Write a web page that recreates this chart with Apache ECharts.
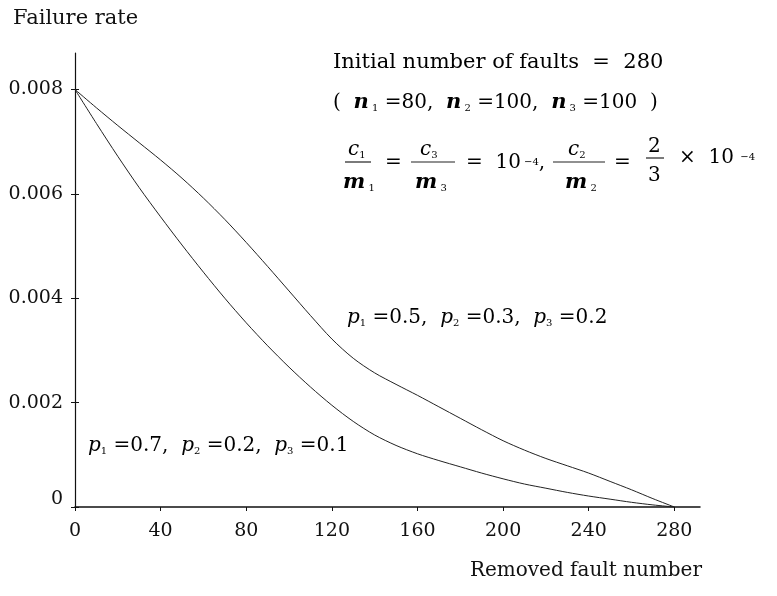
<!DOCTYPE html>
<html>
<head>
<meta charset="UTF-8">
<title>Failure rate</title>
<script src="https://cdn.jsdelivr.net/npm/echarts@6/dist/echarts.min.js"></script>
<style>
  html, body { margin: 0; padding: 0; background: #fff; }
  #chart { width: 777px; height: 596px; }
</style>
</head>
<body>
<div id="chart"></div>
<script>
// removed fault number
var xs = [0, 10, 20, 30, 40, 50, 60, 70, 80, 90, 100, 110, 120, 130, 140,
          150, 160, 170, 180, 190, 200, 210, 220, 230, 240, 250, 260, 270, 280];
// p1=0.5, p2=0.3, p3=0.2
var rateA = [0.0080, 0.00765, 0.00731, 0.00698, 0.00665, 0.0063, 0.00592, 0.00551, 0.00507, 0.00461,
             0.00414, 0.00367, 0.00322, 0.00285, 0.00257, 0.00235, 0.00214, 0.00192, 0.0017, 0.00148,
             0.00127, 0.00109, 0.00093, 0.00079, 0.00065, 0.00049, 0.00033, 0.00016, 0];
// p1=0.7, p2=0.2, p3=0.1
var rateB = [0.0080, 0.00735, 0.00672, 0.00612, 0.00556, 0.00502, 0.0045, 0.004, 0.00353, 0.00309,
             0.00268, 0.0023, 0.00195, 0.00164, 0.00138, 0.00118, 0.00102, 0.00089, 0.00077, 0.00065,
             0.00054, 0.00044, 0.00036, 0.00028, 0.00021, 0.00015, 0.00009, 0.00004, 0];
var xTicks = [0, 40, 80, 120, 160, 200, 240, 280];
var yTicks = [0, 0.002, 0.004, 0.006, 0.008];

var FONT = '"DejaVu Serif", "Liberation Serif", serif';

function pairs(ys) {
    var res = [];
    for (var i = 0; i < xs.length; i++) res.push([xs[i], ys[i]]);
    return res;
}

// rich text styles for the formulas
var LH = 28;
var rich = {
    h: { fontFamily: FONT, fontSize: 21, color: '#111', lineHeight: LH, padding: [4, 0, 0, 0] },
    t: { fontFamily: FONT, fontSize: 20, color: '#111', lineHeight: LH, padding: [4, 0, 0, 0] },
    v: { fontFamily: FONT, fontSize: 20, color: '#111', fontStyle: 'italic', lineHeight: LH, padding: [4, 0, 0, 0] },
    b: { fontFamily: FONT, fontSize: 21, color: '#111', fontStyle: 'italic', fontWeight: 'bold', lineHeight: LH, padding: [4, 0, 0, 0] },
    s: { fontFamily: FONT, fontSize: 10, color: '#333', lineHeight: LH, padding: [15, 0, 0, 0] },
    u: { fontFamily: FONT, fontSize: 10, color: '#333', lineHeight: LH, padding: [2, 0, 0, 0] }
};

function txt(x, y, text) {
    return { type: 'text', left: x, top: y, style: { text: text, rich: rich, font: '20px ' + FONT } };
}
function bar(x1, x2, y) {
    return { type: 'line', shape: { x1: x1, y1: y, x2: x2, y2: y }, style: { stroke: '#222', lineWidth: 1.2 } };
}

var chart = echarts.init(document.getElementById('chart'));
chart.setOption({
    animation: false,
    backgroundColor: '#fff',
    grid: { left: 75, right: 77, top: 53, bottom: 89 },
    xAxis: {
        type: 'value', min: 0, max: 292,
        axisLine: { lineStyle: { color: '#111', width: 1.5 } },
        axisTick: { customValues: xTicks, length: 4, lineStyle: { color: '#111' } },
        axisLabel: { customValues: xTicks, color: '#111', fontFamily: FONT, fontSize: 19, margin: 15 },
        splitLine: { show: false }
    },
    yAxis: [{
        type: 'value', min: 0, max: 0.0087,
        axisLine: { show: true, lineStyle: { color: '#111', width: 1.2 } },
        axisTick: { show: true, customValues: yTicks, length: 4, lineStyle: { color: '#111' } },
        axisLabel: {
            customValues: yTicks, color: '#111', fontFamily: FONT, fontSize: 19, margin: 12,
            formatter: function (v) { return v === 0 ? '{z|0}' : String(v); },
            rich: { z: { fontFamily: FONT, fontSize: 19, color: '#111', padding: [0, 0, 16, 0] } }
        },
        splitLine: { show: false }
    }, {
        type: 'value', min: 0, max: 0.0087, position: 'left',
        axisLine: { show: false },
        axisTick: { show: true, inside: true, customValues: yTicks, length: 4, lineStyle: { color: '#111' } },
        axisLabel: { show: false },
        splitLine: { show: false }
    }],
    series: [{
        type: 'line', data: pairs(rateA), smooth: 0.3, showSymbol: false,
        lineStyle: { color: '#222', width: 1 }
    }, {
        type: 'line', data: pairs(rateB), smooth: 0.3, showSymbol: false,
        lineStyle: { color: '#222', width: 1 }
    }],
    graphic: [
        { type: 'text', left: 13, top: 8, style: { text: 'Failure rate', font: '21px ' + FONT, fill: '#111' } },
        { type: 'text', right: 75, top: 561, style: { text: 'Removed fault number', font: '20px ' + FONT, fill: '#111' } },
        txt(333, 48, '{h|Initial number of faults  =  280}'),
        txt(333, 88, '{t|(  }{b|n}{s| 1}{t| =80,  }{b|n}{s| 2}{t| =100,  }{b|n}{s| 3}{t| =100  )}'),
        // c1/m1 = c3/m3 = 10^-4, c2/m2 = 2/3 x 10^-4
        txt(348, 135, '{v|c}{s|1}'),
        bar(345, 371, 162),
        txt(343, 168, '{b|m}{s| 1}'),
        txt(385, 149, '{t|=}'),
        txt(420, 135, '{v|c}{s|3}'),
        bar(411, 455, 162),
        txt(415, 168, '{b|m}{s| 3}'),
        txt(466, 149, '{t|=  10}{u| −4}{t|,}'),
        txt(568, 135, '{v|c}{s|2}'),
        bar(553, 605, 162),
        txt(565, 168, '{b|m}{s| 2}'),
        txt(614, 149, '{t|=}'),
        txt(648, 133, '{t|2}'),
        bar(646, 664, 158),
        txt(648, 162, '{t|3}'),
        txt(679, 144, '{t|×  10}{u|  −4}'),
        // curve labels
        txt(347, 303, '{v|p}{s|1}{t| =0.5,  }{v|p}{s|2}{t| =0.3,  }{v|p}{s|3}{t| =0.2}'),
        txt(88, 431, '{v|p}{s|1}{t| =0.7,  }{v|p}{s|2}{t| =0.2,  }{v|p}{s|3}{t| =0.1}')
    ]
});
</script>
</body>
</html>
